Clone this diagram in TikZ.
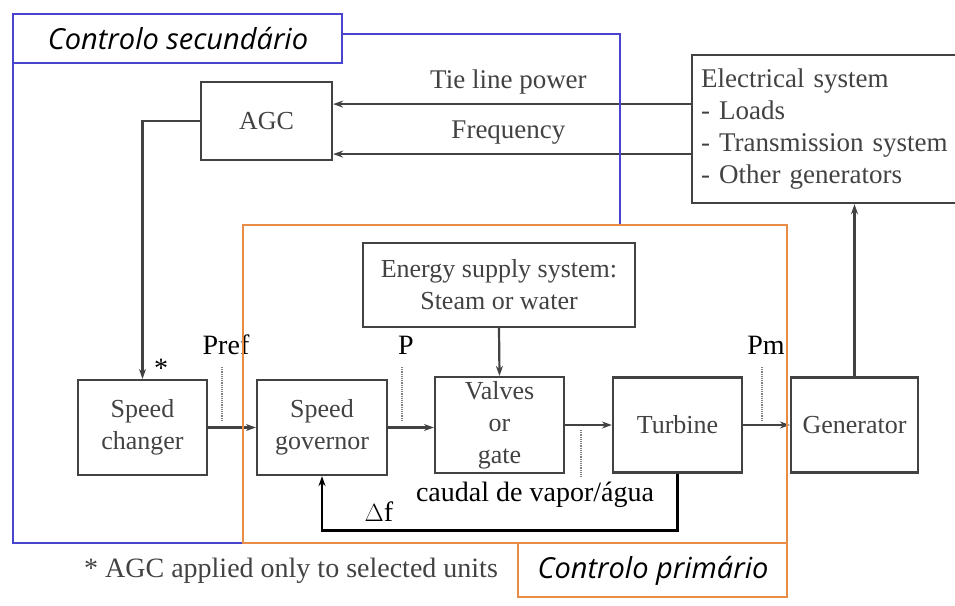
\documentclass[tikz,border=0pt]{standalone}
\usepackage{fontspec}
\setmainfont{Liberation Serif}
\newfontfamily\handfont{Open Sans}
\usetikzlibrary{arrows.meta,positioning}
\definecolor{secblue}{RGB}{72,68,205}
\definecolor{primorange}{RGB}{232,140,72}
\definecolor{inkgray}{RGB}{66,66,66}

\begin{document}
\begin{tikzpicture}[x=1pt,y=-1pt,
    blk/.style={draw=inkgray,line width=2.2pt,text=inkgray,align=center,inner sep=0pt,
      font=\fontsize{26}{32}\selectfont},
    sig/.style={draw=inkgray,line width=2.2pt,-{Stealth[length=10pt,width=7pt]}},
    tap/.style={draw=gray,densely dotted,line width=1.2pt},
    lbl/.style={inner sep=0pt,font=\fontsize{28}{30}\selectfont},
    tag/.style={inner sep=0pt,font=\handfont\itshape\fontsize{29}{32}\selectfont}]
  \useasboundingbox (0,0) rectangle (955,605);
  % blocks
  \node[blk,minimum width=131pt,minimum height=78pt] (agc) at (266.5,121) {AGC};
  \node[blk,minimum width=320pt,minimum height=148pt,text width=302pt,align=left,anchor=north west,
    font=\fontsize{27}{32}\selectfont] (elec) at (691,54)
    {Electrical system\\ - Loads\\ - Transmission system\\ - Other generators};
  \node[blk,minimum width=272pt,minimum height=84pt] (supply) at (499,285) {Energy supply system:\\ Steam or water};
  \node[blk,minimum width=129pt,minimum height=95pt] (chg) at (142.5,427.5) {Speed\\ changer};
  \node[blk,minimum width=130pt,minimum height=95pt] (gov) at (322,427.5) {Speed\\ governor};
  \node[blk,minimum width=129pt,minimum height=96pt] (valve) at (499.5,425) {Valves\\ or\\ gate};
  \node[blk,minimum width=129pt,minimum height=95pt] (turb) at (677.5,425) {Turbine};
  \node[blk,minimum width=127pt,minimum height=95pt] (gen) at (854.5,425) {Generator};
  % signals
  \draw[sig] ([yshift=25pt]elec.west) coordinate (tie) -- (tie -| agc.east)
    node[lbl,text=inkgray,pos=0.51,above=9pt,font=\fontsize{27}{30}\selectfont] (tielbl) {Tie line power};
  \draw[sig] ([yshift=-25pt]elec.west) coordinate (frq) -- (frq -| agc.east)
    node[lbl,text=inkgray,pos=0.51,above=9pt,font=\fontsize{27}{30}\selectfont] (frqlbl) {Frequency};
  \draw[sig] (agc.west) -| (chg.north);
  \draw[sig] (chg.east) -- (gov.west);
  \draw[sig] (gov.east) -- (gov.east -| valve.west);
  \draw[sig] (supply.south) -- (valve.north);
  \draw[sig] (valve.east) -- (valve.east -| turb.west);
  \draw[sig] (turb.east) -- (turb.east -| gen.west);
  \draw[sig] (gen.north) -- (gen.north |- elec.south);
  \draw[sig,draw=black,line width=2.4pt] (turb.south) -- ++(0,57) -| (gov.south);
  % measured quantities
  \foreach \x/\t in {222/Pref,402/P,762/Pm} {
    \draw[tap] (\x,367) -- (\x,420);
    \node[lbl] (q\t) at (\x+4,345) {\t};}
  \draw[tap] (581,430) -- (581,478);
  \node[lbl] (caudal) at (535,495) {caudal de vapor/água};
  \node[lbl] (df) at (379,512) {$\Delta$f};
  \node[lbl] (star) at (161,368) {*};
  \node[lbl,text=inkgray] (note) at (291,571) {* AGC applied only to selected units};
  % control zones
  \draw[secblue,line width=1.5pt] (13,14) rectangle (342,63);
  \node[tag] (sec) at (178,39) {Controlo secundário};
  \draw[secblue,line width=1.5pt] (342,34) -| (620,225);
  \draw[secblue,line width=1.5pt] (13,63) |- (243,543);
  \draw[primorange,line width=1.5pt] (243,225) rectangle (787,543);
  \draw[primorange,line width=1.5pt] (518,543) rectangle (787,597);
  \node[tag] (prim) at (653,571) {Controlo primário};
\end{tikzpicture}
\end{document}
